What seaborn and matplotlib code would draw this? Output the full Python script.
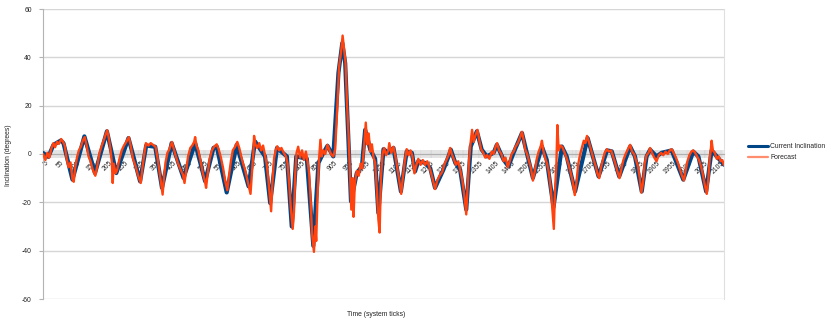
import numpy as np
import pandas as pd
import matplotlib
matplotlib.use("Agg")
import matplotlib.pyplot as plt
from matplotlib.lines import Line2D
from matplotlib.ticker import MultipleLocator
import seaborn as sns

# Current inclination at its turning points
current_ticks = [1, 17, 33, 56, 64, 92, 129, 162, 199, 228, 266, 302, 321, 349, 370,
                 400, 437, 473, 504, 530, 540, 571, 602, 639, 659, 690, 706, 727, 758,
                 773, 787, 820, 840, 856, 871, 884, 902, 918, 930, 939, 949, 957, 975,
                 991, 1001, 1017, 1032, 1042, 1058, 1073, 1089, 1112, 1130, 1146, 1156,
                 1166, 1187, 1203, 1218, 1244, 1260, 1267, 1281, 1296, 1315, 1329, 1348,
                 1363, 1379, 1400, 1410, 1431, 1446, 1462, 1488, 1503, 1522, 1550, 1565,
                 1586, 1612, 1627, 1653, 1692, 1705, 1726, 1752, 1767, 1790, 1824, 1839,
                 1860, 1875, 1886, 1906, 1922, 1953, 1989, 2020, 2036, 2060, 2077, 2093,
                 2115]
current_vals = [0.4, -1.2, 3.8, 5.6, 4.5, -10.6, 7.3, -7.9, 9.4, -7.9, 6.6, -11.3, 3.5,
                3.0, -14.0, 4.5, -9.9, 4.5, -11.3, 2.5, 3.1, -15.9, 3.8, -13.4, 5.2, -1.0,
                -20.3, 2.5, -1.0, -30.0, -1.0, -2.0, -38.0, -3.7, 0.4, 3.4, -1.0, 33.5,
                45.9, 37.6, 5.9, -19.6, -7.9, -5.1, 10.0, 1.8, -2.0, -24.4, 2.0, 0.5, 2.5,
                -15.5, 1.1, 0.5, -7.2, -3.0, -3.7, -5.8, -14.0, -6.5, -1.0, 1.8, -3.7,
                -6.5, -23.0, 3.1, 9.4, 1.8, -1.0, 0.5, 3.8, -2.4, -5.1, 0.5, 8.7, 0.5,
                -9.9, 3.1, -2.4, -22.0, 3.1, -1.0, -15.5, 6.6, 0.5, -9.3, 1.5, 1.1, -9.3,
                3.1, -1.0, -15.5, -1.0, 1.8, -1.0, 0.5, 1.5, -10.6, 1.0, -1.0, -15.5, 1.5,
                -1.0, -4.4]

# Forecast, noisier
forecast_ticks = [1, 8, 14, 20, 27, 33, 38, 44, 50, 57, 63, 68, 74, 80, 86, 92, 96, 100,
                  106, 112, 118, 124, 130, 136, 142, 148, 155, 163, 169, 176, 183, 190,
                  196, 200, 205, 210, 214, 217, 220, 226, 231, 238, 245, 252, 259, 267,
                  272, 280, 288, 296, 304, 309, 315, 320, 328, 335, 342, 350, 356, 362,
                  367, 372, 376, 381, 387, 393, 401, 406, 412, 420, 428, 435, 440, 445,
                  451, 458, 464, 470, 473, 477, 483, 490, 497, 503, 507, 512, 518, 525,
                  532, 540, 546, 553, 560, 566, 573, 578, 584, 590, 597, 604, 610, 616,
                  622, 628, 634, 641, 645, 650, 654, 656, 660, 666, 672, 678, 684, 690,
                  695, 700, 704, 709, 713, 718, 723, 728, 734, 741, 748, 755, 760, 765,
                  770, 776, 780, 784, 788, 793, 799, 805, 811, 817, 822, 827, 832, 836,
                  842, 846, 849, 853, 857, 862, 866, 871, 877, 884, 889, 895, 902, 908,
                  914, 920, 926, 931, 935, 940, 945, 950, 955, 958, 962, 965, 969, 975,
                  981, 987, 992, 997, 1003, 1007, 1012, 1017, 1022, 1027, 1032, 1037,
                  1042, 1046, 1050, 1055, 1060, 1066, 1073, 1076, 1082, 1089, 1095, 1101,
                  1107, 1113, 1118, 1124, 1130, 1136, 1142, 1148, 1154, 1159, 1166, 1173,
                  1180, 1187, 1194, 1203, 1210, 1218, 1225, 1232, 1240, 1248, 1255, 1260,
                  1265, 1270, 1276, 1283, 1290, 1297, 1303, 1309, 1315, 1319, 1324, 1328,
                  1333, 1338, 1344, 1350, 1355, 1361, 1368, 1374, 1380, 1387, 1394, 1400,
                  1406, 1411, 1417, 1424, 1431, 1437, 1444, 1450, 1456, 1462, 1468, 1475,
                  1481, 1488, 1493, 1498, 1504, 1510, 1516, 1522, 1528, 1534, 1540, 1546,
                  1550, 1555, 1561, 1566, 1572, 1578, 1583, 1587, 1591, 1595, 1598, 1602,
                  1607, 1613, 1619, 1626, 1632, 1638, 1645, 1652, 1657, 1663, 1669, 1675,
                  1680, 1685, 1690, 1695, 1700, 1705, 1711, 1717, 1722, 1728, 1733, 1739,
                  1745, 1752, 1758, 1765, 1771, 1777, 1784, 1791, 1797, 1803, 1810, 1817,
                  1824, 1830, 1836, 1842, 1848, 1854, 1859, 1864, 1869, 1875, 1881, 1886,
                  1892, 1899, 1906, 1913, 1920, 1927, 1934, 1941, 1947, 1953, 1959, 1966,
                  1972, 1978, 1985, 1991, 1996, 2002, 2008, 2014, 2020, 2026, 2032, 2038,
                  2044, 2050, 2056, 2062, 2067, 2071, 2074, 2077, 2081, 2087, 2093, 2099,
                  2105, 2110, 2115]
forecast_vals = [0.0, -2.5, 0.5, -1.5, 2.5, 4.5, 2.8, 5.0, 4.2, 6.2, 5.0, 3.5, -2.0,
                 -5.5, -3.5, -10.5, -11.5, -6.0, -1.5, 1.5, 3.0, 5.5, 7.0, 3.5, -1.0,
                 -3.0, -6.5, -9.0, -5.0, 0.5, 3.5, 6.0, 8.5, 9.8, 6.5, 2.0, -3.0, -12.0,
                 -4.0, -8.0, -6.5, -2.0, 1.5, 3.5, 5.0, 7.0, 4.0, -2.0, -5.0, -9.0, -12.0,
                 -6.0, 0.0, 4.5, 3.5, 4.5, 3.8, 3.0, -1.5, -7.0, -12.0, -16.8, -10.0,
                 -3.5, 0.5, 2.0, 5.0, 2.5, -0.5, -4.0, -6.5, -8.5, -12.0, -7.0, -1.0,
                 2.5, 3.5, 5.0, 7.0, 3.5, 1.5, -3.0, -8.0, -11.0, -14.0, -8.0, -2.0, 1.5,
                 3.0, 4.0, 2.0, -1.5, -6.0, -11.0, -15.0, -9.0, -3.0, 1.5, 3.0, 5.0, 2.5,
                 -1.0, -4.0, -6.5, -10.0, -14.0, -16.5, -7.0, 1.0, 7.5, 4.0, 2.5, 4.5,
                 1.5, 3.5, -0.5, -4.0, -10.0, -16.0, -23.7, -12.0, -2.0, 1.5, 3.2, 1.5,
                 2.5, 0.5, -1.0, -4.0, -12.0, -22.0, -31.0, -24.0, -8.0, 0.5, 3.0, -1.5,
                 1.5, -2.5, 1.0, -3.0, -8.0, -20.0, -33.0, -40.5, -30.0, -36.0, -18.0,
                 -4.0, 5.9, -1.0, 1.5, 0.0, 3.8, 2.0, 0.0, -1.0, 2.0, 18.0, 36.0, 42.0,
                 49.0, 44.0, 38.0, 20.0, 6.0, -12.0, -23.0, -10.0, -26.0, -12.0, -7.0,
                 -9.0, -4.0, -6.0, 2.0, 13.0, 4.0, 8.5, 1.0, 4.0, -1.5, -3.5, -14.0,
                 -27.0, -32.5, -10.0, 0.0, 2.5, -0.5, 1.5, 4.5, 0.5, 3.0, -1.0, -6.0,
                 -11.0, -16.5, -10.0, -3.0, 2.0, -0.5, 1.5, -1.0, -8.0, -5.0, -2.0, -4.5,
                 -2.5, -4.5, -3.0, -6.5, -10.0, -14.5, -11.0, -9.0, -7.5, -4.0, -2.0,
                 -0.5, 2.5, 0.0, -2.0, -4.5, -3.0, -7.0, -11.0, -17.0, -25.0, -14.0,
                 -2.0, 4.0, 10.0, 5.0, 8.0, 10.0, 6.0, 2.0, 0.5, -1.5, -0.5, -2.0, 1.0,
                 0.0, 3.0, 4.5, 1.5, 0.0, -3.0, -1.5, -5.5, -3.0, 0.0, 1.0, 3.0, 4.5, 6.5,
                 9.2, 6.0, 2.0, 0.0, -3.0, -6.0, -11.0, -7.0, -2.0, 1.0, 3.0, 5.5, 1.0,
                 -2.0, -4.0, -8.0, -15.0, -24.0, -31.0, -14.0, -4.0, 12.0, 1.5, 3.5, 3.0,
                 1.0, -1.5, -4.0, -7.0, -11.0, -17.0, -12.0, -4.0, 0.0, 3.0, 5.5, 4.5,
                 7.5, 5.5, 3.0, 0.5, -2.5, -5.0, -8.0, -10.0, -6.0, -2.5, 0.5, 2.0, 1.0,
                 1.5, -1.0, -3.5, -7.0, -10.0, -6.0, -2.5, 0.0, 2.0, 3.8, 1.0, 0.0, -2.5,
                 -5.0, -10.0, -16.0, -12.0, -4.0, -0.5, 0.5, 2.5, 0.5, -1.5, -3.0, -0.5,
                 0.5, -0.5, 1.0, 0.0, 1.5, 2.0, 0.5, -1.5, -3.5, -6.0, -9.0, -11.0, -7.0,
                 -3.0, -0.5, 1.0, 1.5, 0.5, -1.0, -2.5, -5.0, -8.5, -13.0, -16.5, -10.0,
                 -2.0, 1.0, 5.5, 1.5, 0.5, -2.0, -1.0, -3.0, -2.5, -4.5]

n_ticks = 2115
label_ticks = list(range(5, n_ticks, 50))
y_ticks = [-60, -40, -20, 0, 20, 40, 60]

blue = "#004586"
orange = "#ff420e"
fs = 4.9

sns.set_style("white")
plt.rcParams['font.family'] = ['Liberation Sans', 'DejaVu Sans']

fig = plt.figure(figsize=(8.37, 3.25), dpi=100)
ax = fig.add_axes([43 / 837, 26 / 325, 681 / 837, 290 / 325])

df_cur = pd.DataFrame({'tick': current_ticks, 'val': current_vals})
df_fc = pd.DataFrame({'tick': forecast_ticks, 'val': forecast_vals})

sns.lineplot(data=df_cur, x='tick', y='val', ax=ax, color=blue, linewidth=3.0,
             sort=False, zorder=3)
sns.lineplot(data=df_fc, x='tick', y='val', ax=ax, color=orange, linewidth=1.7,
             sort=False, zorder=4)

ax.set_xlim(0.5, n_ticks + 0.5)
ax.set_ylim(-60, 60)
ax.set_yticks(y_ticks)
ax.set_yticklabels([str(v) for v in y_ticks])
ax.grid(axis='y', color='#d6d6d6', linewidth=1.0)
ax.set_axisbelow(True)

# category axis crosses at zero, dense per-sample ticks -> light grey band
ax.spines['bottom'].set_position(('data', 0))
ax.spines['bottom'].set_color('#b0b0b0')
ax.spines['top'].set_visible(False)
ax.spines['left'].set_color('#b3b3b3')
ax.spines['right'].set_color('#e0e0e0')
ax.set_xticks(label_ticks)
ax.set_xticklabels([str(t) for t in label_ticks], rotation=45, ha='right',
                   va='top', rotation_mode='anchor', fontsize=fs, color='#222222')
ax.xaxis.set_minor_locator(MultipleLocator(2))
ax.tick_params(axis='x', which='both', bottom=True, direction='inout', length=6,
               width=0.25, color='#c4c4c4', pad=1)
ax.tick_params(axis='y', which='major', left=True, direction='out', length=3,
               width=0.8, color='#b3b3b3', labelsize=fs, labelcolor='#222222', pad=5)

ax.set_xlabel('')
ax.set_ylabel('')
fig.text(376 / 837, 1 - 315 / 325, 'Time (system ticks)', ha='center', va='center',
         fontsize=fs, color='#222222')
fig.text(9 / 837, 1 - 155 / 325, 'Inclination (degrees)', ha='center', va='center',
         rotation=90, fontsize=fs, color='#222222')

handles = [Line2D([], [], color=blue, linewidth=2.2),
           Line2D([], [], color=orange, linewidth=1.6, alpha=0.6)]
fig.legend(handles, ['Current Inclination', 'Forecast'], loc='center left',
           bbox_to_anchor=(745 / 837, 1 - 152 / 325), frameon=False, fontsize=fs,
           handlelength=3.0, handletextpad=0.3, labelspacing=0.6, borderaxespad=0)

fig.savefig('out.png', dpi=100)
